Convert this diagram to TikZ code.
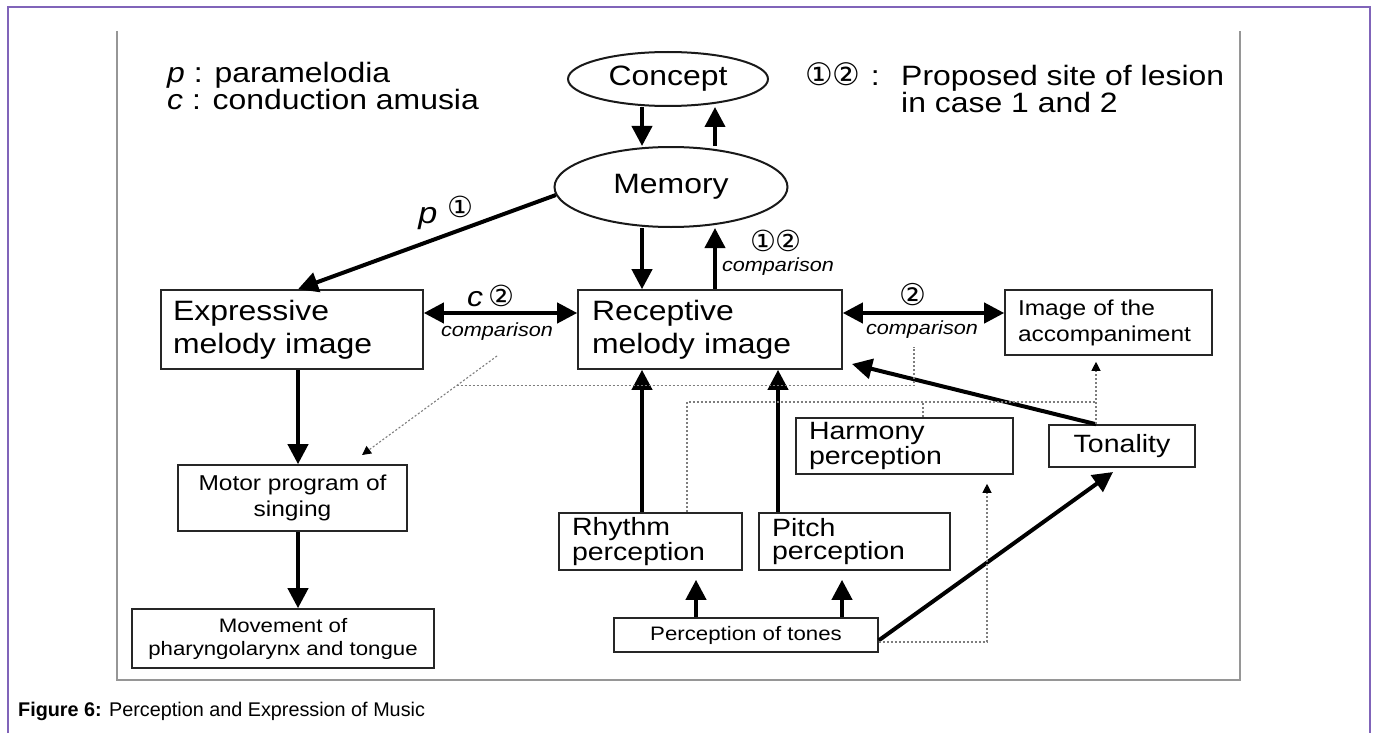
\documentclass[tikz,border=0pt]{standalone}
\usepackage{fontspec}
\setmainfont{Liberation Sans}[FakeStretch=1.14]
\newfontfamily\capfont{Liberation Sans}
\newfontfamily\circfont{DejaVu Sans}
\usetikzlibrary{shapes.geometric,arrows.meta,calc}
\definecolor{framepurple}{RGB}{128,100,185}
\definecolor{framegray}{RGB}{150,150,150}
\definecolor{dotgray}{RGB}{125,125,125}
\tikzset{
  box/.style={draw=black!85, line width=1.6pt, rectangle, inner sep=0pt},
  oval/.style={draw=black!90, line width=2pt, ellipse, inner sep=0pt},
  bigtxt/.style={font=\fontsize{28}{33}\selectfont},
  midtxt/.style={font=\fontsize{25}{23}\selectfont},
  acctxt/.style={font=\fontsize{21.5}{26}\selectfont},
  smalltxt/.style={font=\fontsize{19.5}{23}\selectfont},
  cmptxt/.style={font=\fontsize{19}{22}\selectfont\itshape},
  legtxt/.style={font=\fontsize{28}{27}\selectfont, inner sep=0pt},
  thickarrow/.style={line width=4pt, -{Triangle[length=20pt,width=20pt]}},
  dblarrow/.style={line width=4pt, {Triangle[length=20pt,width=20pt]}-{Triangle[length=20pt,width=20pt]}},
  dotline/.style={dotgray, line width=1.1pt, dash pattern=on 2pt off 2pt},
  dotarrow/.style={dotline, -{Triangle[length=9pt,width=9pt,color=black]}},
}
\newcommand{\circsz}[1]{\circfont\fontsize{#1}{#1}\selectfont}
\begin{document}
\begin{tikzpicture}[x=1pt,y=-1pt]
\useasboundingbox (0,0) rectangle (1375,733);
\fill[white] (0,0) rectangle (1375,733);
% frames
\draw[framepurple, line width=1.5pt] (8,733) -- (8,7) -- (1370,7) -- (1370,733);
\draw[framegray, line width=1.2pt] (117,31) -- (117,680) -- (1240,680) -- (1240,31);

% legends
\node[legtxt, anchor=base west] (legp) at (167,83) {\textit{p} : paramelodia};
\node[legtxt, anchor=base west] (legc) at (167,110) {\textit{c} : conduction amusia};
\node[legtxt, anchor=base west] (legnum) at (805,86) {{\circsz{31}①②}\hspace{10pt}:};
\node[legtxt, anchor=north west, align=left] (legtext) at (901,65) {Proposed site of lesion\\in case 1 and 2};

% ellipses
\node[oval, minimum width=200pt, minimum height=54pt, bigtxt] (concept) at (668,79) {Concept};
\node[oval, minimum width=233pt, minimum height=80pt, bigtxt] (memory) at (671,187) {Memory};

% boxes
\node[box, minimum width=262pt, minimum height=79pt, bigtxt, align=left, text width=238pt] (exp) at (292,329.5) {Expressive\\melody image};
\node[box, minimum width=264pt, minimum height=79pt, bigtxt, align=left, text width=236pt] (rec) at (710,329.5) {Receptive\\melody image};
\node[box, minimum width=207pt, minimum height=65pt, acctxt, align=left, text width=181pt] (acc) at (1108.5,322.5) {Image of the\\accompaniment};
\node[box, minimum width=217pt, minimum height=56pt, midtxt, align=left, text width=191pt] (harm) at (904.5,446) {Harmony\\perception};
\node[box, minimum width=146pt, minimum height=42pt, midtxt] (ton) at (1122,446) {Tonality};
\node[box, minimum width=183pt, minimum height=57pt, midtxt, align=left, text width=157pt] (rhy) at (650.5,541.5) {Rhythm\\perception};
\node[box, minimum width=191pt, minimum height=57pt, midtxt, align=left, text width=165pt] (pit) at (854.5,541.5) {Pitch\\perception};
\node[box, minimum width=264pt, minimum height=34pt, smalltxt] (tones) at (746,635) {Perception of tones};
\node[box, minimum width=229pt, minimum height=66pt, acctxt, align=center] (motor) at (292.5,498) {Motor program of\\singing};
\node[box, minimum width=302pt, minimum height=59pt, smalltxt, align=center] (move) at (283,638.5) {Movement of\\pharyngolarynx and tongue};

% helper coordinates
\coordinate (cL) at (642,0);
\coordinate (cR) at (715,0);
\coordinate (xA) at (298,0);
\coordinate (xP) at (778,0);
\coordinate (xT1) at (696,0);
\coordinate (xT2) at (842,0);
\coordinate (yC) at (0,313);
\coordinate (xT) at (1096,0);
\coordinate (recTip) at (852,364);
\coordinate (tonTip) at (1113,472);

% thick arrows
\draw[thickarrow] (concept.south -| cL) -- (memory.north -| cL);
\draw[thickarrow] (memory.north -| cR) -- (concept.south -| cR);
\draw[thickarrow] (memory.south -| cL) -- (rec.north -| cL);
\draw[thickarrow] (rec.north -| cR) -- (memory.south -| cR);
\draw[thickarrow] (memory.184) -- (exp.north -| xA);
\draw[dblarrow] (exp.east |- yC) -- (rec.west |- yC);
\draw[dblarrow] (rec.east |- yC) -- (acc.west |- yC);
\draw[thickarrow] (exp.south -| xA) -- (motor.north -| xA);
\draw[thickarrow] (motor.south -| xA) -- (move.north -| xA);
\draw[thickarrow] (rhy.north -| cL) -- (rec.south -| cL);
\draw[thickarrow] (pit.north -| xP) -- (rec.south -| xP);
\draw[thickarrow, shorten >=9pt] (tones.north -| xT1) -- (rhy.south -| xT1);
\draw[thickarrow, shorten >=9pt] (tones.north -| xT2) -- (pit.south -| xT2);
\draw[thickarrow] (ton.north -| xT) -- (recTip);
\draw[thickarrow] ($(tones.east)!0.3!(tones.south east)$) -- (tonTip);

% arrow labels
\node[legtxt, font=\fontsize{30}{30}\selectfont\itshape] (lblp) at (428,219) {p};
\node[legtxt] (lblp1) at (460,207) {{\circsz{29}①}};
\node[legtxt] (lblc) at (491,296) {\textit{c}\hspace{6pt}{\circsz{29}②}};
\node[cmptxt, inner sep=0pt] (cmp1) at (497,332) {comparison};
\node[legtxt] (lbl2) at (913,295) {{\circsz{30}②}};
\node[cmptxt, inner sep=0pt] (cmp2) at (922,330) {comparison};
\node[legtxt] (lbl12) at (776,241) {{\circsz{29}①②}};
\node[cmptxt, inner sep=0pt] (cmp3) at (778,267) {comparison};

% dotted connections
\coordinate (d1s) at (497,356);
\coordinate (d1e) at (362,455);
\coordinate (j1) at ($(d1s)!0.3!(d1e)$);
\coordinate (d2) at (914,347);
\coordinate (k1) at (687,402);
\coordinate (k2) at (1096,402);
\coordinate (k3) at (923,402);
\coordinate (m1) at (987,642);
\draw[dotarrow] (d1s) -- (d1e);
\draw[dotline] (j1) -- (j1 -| d2) -- (d2);
\draw[dotline] (rhy.north -| k1) -- (k1) -- (k2);
\draw[dotarrow, shorten >=6pt] (ton.north -| k2) -- (acc.south -| k2);
\draw[dotline] (harm.north -| k3) -- (k3);
\draw[dotarrow, shorten >=9pt] (tones.east |- m1) -- (m1) -- (m1 |- harm.south);

% caption
\node[anchor=base west, inner sep=0pt, font=\capfont\fontsize{19.8}{22}\selectfont] (caption) at (18,716) {\textbf{Figure 6:} Perception and Expression of Music};
\end{tikzpicture}
\end{document}
